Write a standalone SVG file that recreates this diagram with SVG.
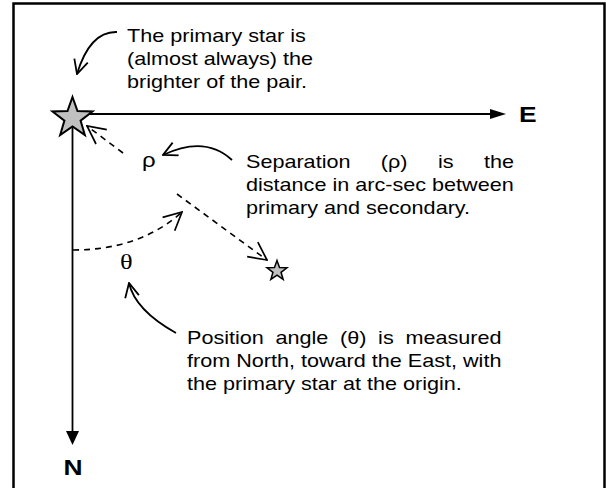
<svg xmlns="http://www.w3.org/2000/svg" width="606" height="488" viewBox="0 0 606 488">
<style>
.t{font-family:"Liberation Sans",Arial,sans-serif;font-size:18px;fill:#000}
.b{font-family:"Liberation Sans",Arial,sans-serif;font-size:22px;font-weight:bold;fill:#000}
.s{font-family:"Liberation Serif","Times New Roman",serif;font-size:22px;fill:#000}
.ax{stroke:#000;stroke-width:1.8;fill:none}
.cl{stroke:#000;stroke-width:1.8;fill:none;marker-end:url(#open)}
.ds{stroke:#000;stroke-width:1.6;fill:none;stroke-dasharray:6,5;marker-end:url(#open2)}
.star{fill:#c0c0c0;stroke:#000;stroke-linejoin:miter}
</style>
<defs>
<marker id="open" viewBox="0 0 16 16" refX="15" refY="8" markerWidth="16" markerHeight="16" markerUnits="userSpaceOnUse" orient="auto">
<path d="M1,1 L15,8 L1,15" fill="none" stroke="#000" stroke-width="1.8"/>
</marker>
<marker id="open2" viewBox="0 0 20 20" refX="19" refY="10" markerWidth="20" markerHeight="20" markerUnits="userSpaceOnUse" orient="auto">
<path d="M1,1 L19,10 L1,19" fill="none" stroke="#000" stroke-width="1.7"/>
</marker>
</defs>
<rect width="606" height="488" fill="#fff"/>
<rect id="frame" x="13.5" y="3.5" width="591" height="490" fill="none" stroke="#000" stroke-width="2.5"/>
<g id="connectors">
<line class="ax" x1="85" y1="114" x2="491" y2="114"/>
<polygon points="490,109 506,114 490,119" fill="#000"/>
<line class="ax" x1="72.5" y1="125" x2="72.5" y2="432"/>
<polygon points="66,431 79,431 72.5,445" fill="#000"/>
<path class="cl" d="M117,32 Q90,31 77,74"/>
<path class="cl" d="M232,160 Q205,135 163,155"/>
<path class="cl" d="M176,333 Q135,310 129,283"/>
<path class="ds" d="M123,153 L87,126"/>
<path class="ds" d="M177,194 L267,260"/>
<path class="ds" d="M73,250 Q140,250 182,212"/>
</g>
<g id="primary-star">
<polygon class="star" stroke-width="2" points="72.5,97 77.5,111.12 92.47,111.51 80.58,120.63 84.84,134.99 72.5,126.5 60.16,134.99 64.42,120.63 52.53,111.51 67.5,111.12"/>
</g>
<g id="secondary-star">
<polygon class="star" stroke-width="1.5" points="277,260.5 279.5,267.56 286.99,267.76 281.04,272.31 283.17,279.49 277,275.25 270.83,279.49 272.96,272.31 267.01,267.76 274.5,267.56"/>
</g>
<g id="label-E"><text class="b" transform="translate(519,122) scale(1.2,1)">E</text></g>
<g id="label-N"><text class="b" text-anchor="middle" transform="translate(73,475) scale(1.2,1)">N</text></g>
<g id="label-rho"><text class="t" font-size="20" style="font-size:20px" transform="translate(142,167) scale(1.2,1)">ρ</text></g>
<g id="label-theta"><text class="s" transform="translate(120,269) scale(1.2,1)">θ</text></g>
<g id="note-primary">
<text class="t" transform="translate(127,42) scale(1.2,1)">The primary star is</text>
<text class="t" transform="translate(127,65) scale(1.2,1)">(almost always) the</text>
<text class="t" transform="translate(127,88) scale(1.2,1)">brighter of the pair.</text>
</g>
<g id="note-separation">
<text class="t" transform="translate(246,168) scale(1.2,1)"><tspan x="0">Separation</tspan><tspan x="112.3">(ρ)</tspan><tspan x="160">is</tspan><tspan x="198.3">the</tspan></text>
<text class="t" transform="translate(246,191) scale(1.2,1)">distance in arc-sec between</text>
<text class="t" transform="translate(246,214) scale(1.2,1)">primary and secondary.</text>
</g>
<g id="note-position">
<text class="t" transform="translate(187,344) scale(1.2,1)"><tspan x="0">Position</tspan><tspan x="73.75">angle</tspan><tspan x="127.5">(θ)</tspan><tspan x="159.25">is</tspan><tspan x="182">measured</tspan></text>
<text class="t" transform="translate(187,367) scale(1.2,1)">from North, toward the East, with</text>
<text class="t" transform="translate(187,390) scale(1.2,1)">the primary star at the origin.</text>
</g>
</svg>
